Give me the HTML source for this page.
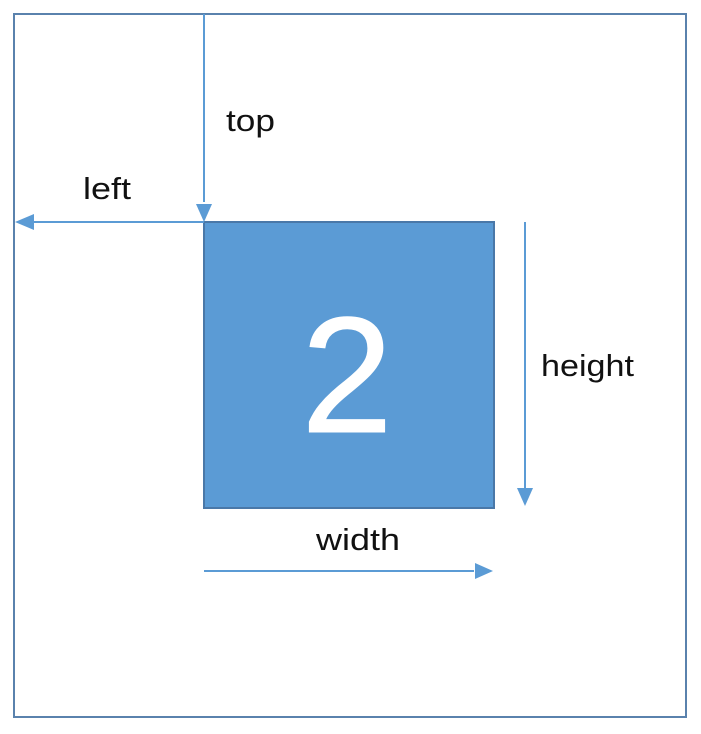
<!DOCTYPE html>
<html><head><meta charset="utf-8"><style>
html,body{margin:0;padding:0;background:#fff;}
svg{display:block;}
text{font-family:"Liberation Sans",sans-serif;fill:#111;}
</style></head><body>
<svg width="701" height="734" viewBox="0 0 701 734">
<rect x="14" y="14" width="672" height="703" fill="#fff" stroke="#5a82ad" stroke-width="2"/>
<rect x="204" y="222" width="290" height="286" fill="#5b9bd5" stroke="#4a78a8" stroke-width="2"/>
<text x="347" y="432" font-size="165" text-anchor="middle" style="fill:#fff;stroke:#fff;stroke-width:1">2</text>
<g stroke="#5b9bd5" stroke-width="2" fill="none">
<line x1="204" y1="14" x2="204" y2="202"/>
<line x1="204" y1="222" x2="34" y2="222"/>
<line x1="525" y1="222" x2="525" y2="488"/>
<line x1="204" y1="571" x2="474" y2="571"/>
</g>
<g fill="#5b9bd5">
<path d="M196,204 L212,204 L204,222 z"/>
<path d="M34,214 L34,230 L15,222 z"/>
<path d="M517,488 L533,488 L525,506 z"/>
<path d="M475,563 L475,579 L493,571 z"/>
</g>
<text x="226" y="131" font-size="31" textLength="49" lengthAdjust="spacingAndGlyphs">top</text>
<text x="83" y="199" font-size="31" textLength="48" lengthAdjust="spacingAndGlyphs">left</text>
<text x="541" y="376" font-size="31" textLength="93" lengthAdjust="spacingAndGlyphs">height</text>
<text x="316" y="550" font-size="31" textLength="84" lengthAdjust="spacingAndGlyphs">width</text>
</svg>
</body></html>
